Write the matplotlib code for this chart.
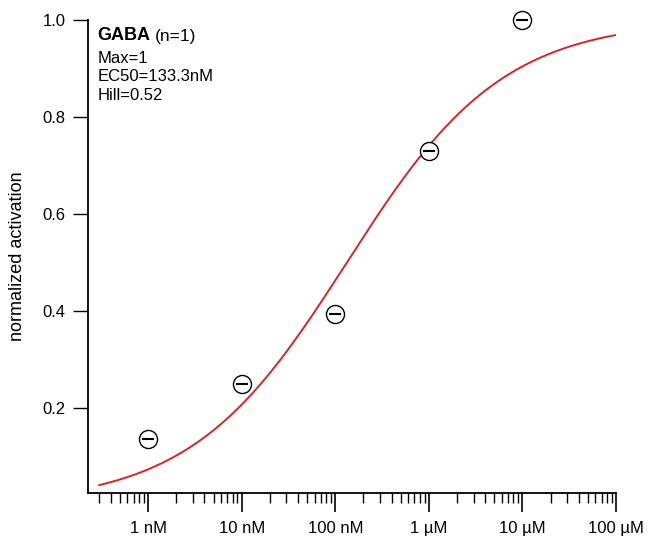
import numpy as np
import matplotlib
matplotlib.use("Agg")
import matplotlib.pyplot as plt
import matplotlib.ticker as mt

plt.rcParams['font.family'] = ['Liberation Sans', 'DejaVu Sans']

# measured points (concentration in M)
conc = [1e-9, 1e-8, 1e-7, 1e-6, 1e-5]
activation = [0.136, 0.248, 0.393, 0.729, 1.0]

# fit parameters shown on the chart
fit_max = 1.0
fit_ec50 = 133.3e-9
fit_hill = 0.52

tick_pos = [1e-9, 1e-8, 1e-7, 1e-6, 1e-5, 1e-4]
tick_labels = ["1 nM", "10 nM", "100 nM", "1 µM", "10 µM", "100 µM"]

fig = plt.figure(figsize=(6.55, 5.37), dpi=100)
ax = fig.add_axes([0.1344, 0.0819, 0.8061, 0.8809])

# Hill curve from the fit parameters
xfit = np.logspace(np.log10(3e-10), -4, 300)
yfit = fit_max / (1 + (fit_ec50 / xfit) ** fit_hill)
ax.plot(xfit, yfit, color='#d92424', lw=1.4)

ax.plot(conc, activation, 'o', ms=13, mfc='white', mec='black', mew=1.0,
        ls='none', clip_on=False, zorder=3)
ax.plot(conc, activation, '_', ms=8, mec='black', mew=1.5,
        ls='none', clip_on=False, zorder=4)

ax.set_xscale('log')
ax.set_xlim(2.28e-10, 1e-4)
ax.set_ylim(0.024, 1.0)

ax.xaxis.set_major_locator(mt.FixedLocator(tick_pos))
ax.xaxis.set_major_formatter(mt.FixedFormatter(tick_labels))
ax.xaxis.set_minor_locator(mt.LogLocator(base=10, subs=np.arange(2, 10), numticks=20))
ax.xaxis.set_minor_formatter(mt.NullFormatter())
ax.set_yticks([0.2, 0.4, 0.6, 0.8, 1.0])
ax.yaxis.set_major_formatter(mt.FormatStrFormatter('%.1f'))

ax.tick_params(axis='x', which='major', length=14, width=1.2, pad=6, labelsize=12)
ax.tick_params(axis='x', which='minor', length=7, width=1.0)
ax.tick_params(axis='y', which='major', length=11, width=1.0, pad=5, labelsize=12)

for side in ('top', 'right'):
    ax.spines[side].set_visible(False)
for side in ('left', 'bottom'):
    ax.spines[side].set_linewidth(1.3)

ax.set_ylabel("normalized activation", fontsize=13, labelpad=12)

# annotation block
title = ax.text(0.018, 0.985, "GABA", transform=ax.transAxes, fontsize=13,
                fontweight='bold', va='top')
ax.annotate("(n=1)", xy=(1, 0), xycoords=title, xytext=(3, 0),
            textcoords='offset points', fontsize=12.5, va='bottom')
ax.text(0.018, 0.935, "Max=1\nEC50=133.3nM\nHill=0.52", transform=ax.transAxes,
        fontsize=12, va='top', linespacing=1.3)

fig.savefig("out.png", dpi=100)
